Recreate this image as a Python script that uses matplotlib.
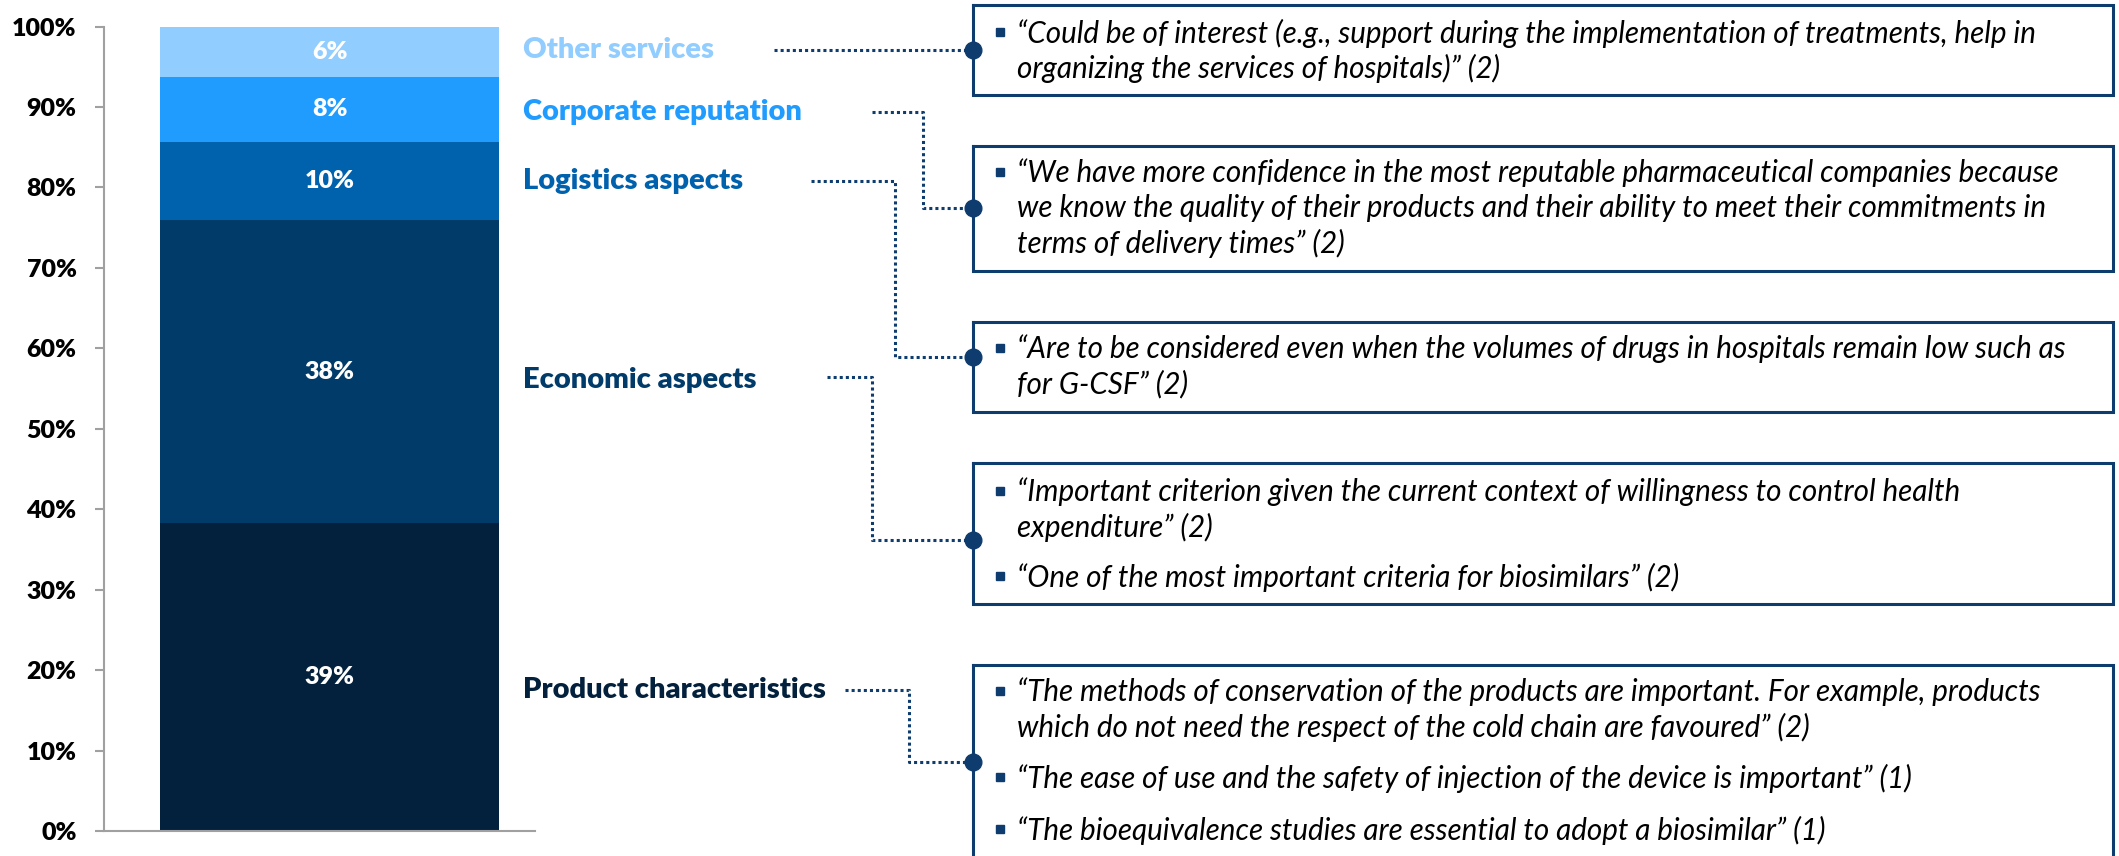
import matplotlib
matplotlib.use('Agg')
import matplotlib.pyplot as plt

plt.rcParams['font.family'] = ['Lato', 'DejaVu Sans']

# stacked shares, bottom to top
categories = ['Product characteristics', 'Economic aspects', 'Logistics aspects',
              'Corporate reputation', 'Other services']
shares = [38.3, 37.6, 9.8, 8.0, 6.3]
share_labels = ['39%', '38%', '10%', '8%', '6%']
colors = ['#03203C', '#013B6A', '#0061AD', '#209CFF', '#92CDFF']

quotes = [
    [['\u201cThe methods of conservation of the products are important. For example, products',
      'which do not need the respect of the cold chain are favoured\u201d (2)'],
     ['\u201cThe ease of use and the safety of injection of the device is important\u201d (1)'],
     ['\u201cThe bioequivalence studies are essential to adopt a biosimilar\u201d (1)']],
    [['\u201cImportant criterion given the current context of willingness to control health',
      'expenditure\u201d (2)'],
     ['\u201cOne of the most important criteria for biosimilars\u201d (2)']],
    [['\u201cAre to be considered even when the volumes of drugs in hospitals remain low such as',
      'for G-CSF\u201d (2)']],
    [['\u201cWe have more confidence in the most reputable pharmaceutical companies because',
      'we know the quality of their products and their ability to meet their commitments in',
      'terms of delivery times\u201d (2)']],
    [['\u201cCould be of interest (e.g., support during the implementation of treatments, help in',
      'organizing the services of hospitals)\u201d (2)']],
]

# layout in figure pixels (y from top)
W, H = 2119, 856
label_y = [690, 380, 181, 112, 50]
conn_start = [845, 827, 811, 872, 774]
conn_bend = [909, 872, 895, 923, None]
dot_y = [762, 540, 357, 208, 50]
box_y = [(665, 880), (463, 604), (322, 412), (146, 271), (5, 95)]
bullet_y = [[692, 778, 830], [492, 577], [349], [173], [33]]
box_x0, box_x1 = 973, 2113
navy = '#0E3C6E'

fig = plt.figure(figsize=(W / 100, H / 100), dpi=100)

ax = fig.add_axes([103.6 / W, 25 / H, (535 - 103.6) / W, (829.5 - 25) / H])
bottom = 0
for v, lab, c in zip(shares, share_labels, colors):
    ax.bar(0.524, v, bottom=bottom, width=0.786, color=c)
    ax.text(0.524, bottom + v / 2, lab, ha='center', va='center', color='white',
            fontsize=18, fontweight='heavy')
    bottom += v
ax.set_xlim(0, 1)
ax.set_ylim(0, 100)
ax.set_yticks(range(0, 101, 10))
ax.set_yticklabels([f'{t}%' for t in range(0, 101, 10)], fontsize=18, fontweight='heavy')
ax.set_xticks([])
ax.tick_params(axis='y', direction='out', length=6.5, width=1.5, color='#A0A0A0', pad=13)
for s in ['top', 'right']:
    ax.spines[s].set_visible(False)
for s in ['left', 'bottom']:
    ax.spines[s].set_color('#A0A0A0')
    ax.spines[s].set_linewidth(1.5)

ov = fig.add_axes([0, 0, 1, 1])
ov.set_xlim(0, W)
ov.set_ylim(H, 0)
ov.axis('off')
ov.patch.set_visible(False)

# fit quote size so the longest line spans the same width as in the source
probe = ov.text(0, 0, quotes[3][0][0], fontsize=10, style='italic')
fig.canvas.draw()
qsize = 10 * 1043 / probe.get_window_extent().width
probe.remove()

for i, cat in enumerate(categories):
    ov.text(523, label_y[i], cat, color=colors[i], fontsize=21, fontweight='heavy',
            ha='left', va='center')
    y0 = label_y[i] if i != 1 else 377
    x0 = conn_start[i]
    if conn_bend[i] is None:
        xs, ys = [x0, box_x0], [y0, y0]
    else:
        xs = [x0, conn_bend[i], conn_bend[i], box_x0]
        ys = [y0, y0, dot_y[i], dot_y[i]]
    ov.plot(xs, ys, color=navy, lw=2.2, linestyle=(0, (1, 1)), solid_capstyle='butt')
    by0, by1 = box_y[i]
    ov.plot([box_x0, box_x1, box_x1, box_x0, box_x0], [by0, by0, by1, by1, by0],
            color=navy, lw=2.2, solid_joinstyle='miter')
    ov.plot(box_x0, dot_y[i], 'o', color=navy, markersize=12, zorder=5)
    for b, lines in enumerate(quotes[i]):
        yb = bullet_y[i][b]
        ov.plot(1000, yb - 1, 's', color=navy, markersize=6)
        for k, line in enumerate(lines):
            ov.text(1017, yb + 35 * k, line, fontsize=qsize, style='italic', color='black',
                    ha='left', va='center')

fig.savefig('out.png', dpi=100)
